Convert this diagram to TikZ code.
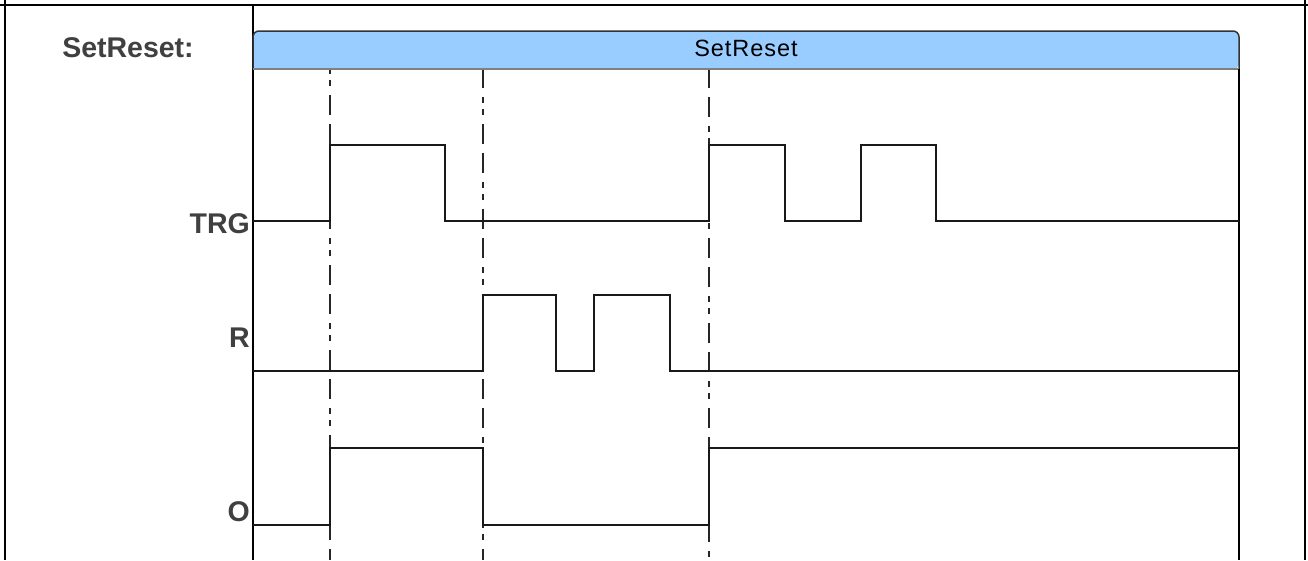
\documentclass[tikz,border=0pt]{standalone}
\usepackage{fontspec}
\setmainfont{Liberation Sans}
\newfontfamily\headfont[LetterSpace=4]{Liberation Sans}
\usetikzlibrary{positioning}

\definecolor{barblue}{HTML}{99CCFF}

\begin{document}
\begin{tikzpicture}[x=1pt,y=-1pt,
  tableline/.style={black, line width=2pt},
  signal/.style={black!90, line width=1.8pt},
  marker/.style={black!85, line width=1.8pt,
    dash pattern=on 20pt off 9pt on 20pt off 9pt on 6pt off 6pt on 6pt off 9pt},
  siglabel/.style={anchor=base east, inner sep=0pt, text=black!75,
    font=\fontsize{28.5}{30}\selectfont\bfseries}]
  \useasboundingbox (0,0) rectangle (1308,560);

  % table cells
  \draw[tableline] (0,5) -- (1308,5);
  \draw[tableline] (5,0) -- (5,560);
  \draw[tableline] (1305,0) -- (1305,560);
  \draw[tableline] (253,5) -- (253,560);
  \node[siglabel, anchor=base] (title) at (128,57) {SetReset:};

  % time markers
  \draw[marker, dash phase=58pt] (330,68) -- (330,560);
  \draw[marker, dash phase=29pt] (483,68) -- (483,560);
  \draw[marker] (709,68) -- (709,560);

  % header bar
  \fill[barblue, rounded corners=6pt] (253,69) |- (1239,31) -- (1239,69) [sharp corners] -- cycle;
  \draw[black!80, line width=1.5pt, rounded corners=6pt] (253,69) |- (1239,31) -- (1239,69);
  \draw[gray, line width=1.2pt] (253,69) -- (1239,69);
  \node[anchor=base, inner sep=0pt, text=black, font=\headfont\fontsize{23.5}{25}\selectfont]
    (head) at (746,56.5) {SetReset};
  \draw[black, line width=1.8pt] (1239,69) -- (1239,560);

  % signals
  \node[siglabel] (trg) at (250,233) {TRG};
  \draw[signal] (253,221) -| (330,145) -| (445,221) -| (709,145) -| (785,221)
    -| (861,145) -| (936,221) -- (1239,221);

  \node[siglabel] (r) at (250,347) {R};
  \draw[signal] (253,371) -| (483,295) -| (556,371) -| (594,295) -| (670,371) -- (1239,371);

  \node[siglabel] (o) at (250,521.5) {O};
  \draw[signal] (253,525) -| (330,448) -| (483,525) -| (709,448) -- (1239,448);
\end{tikzpicture}
\end{document}
